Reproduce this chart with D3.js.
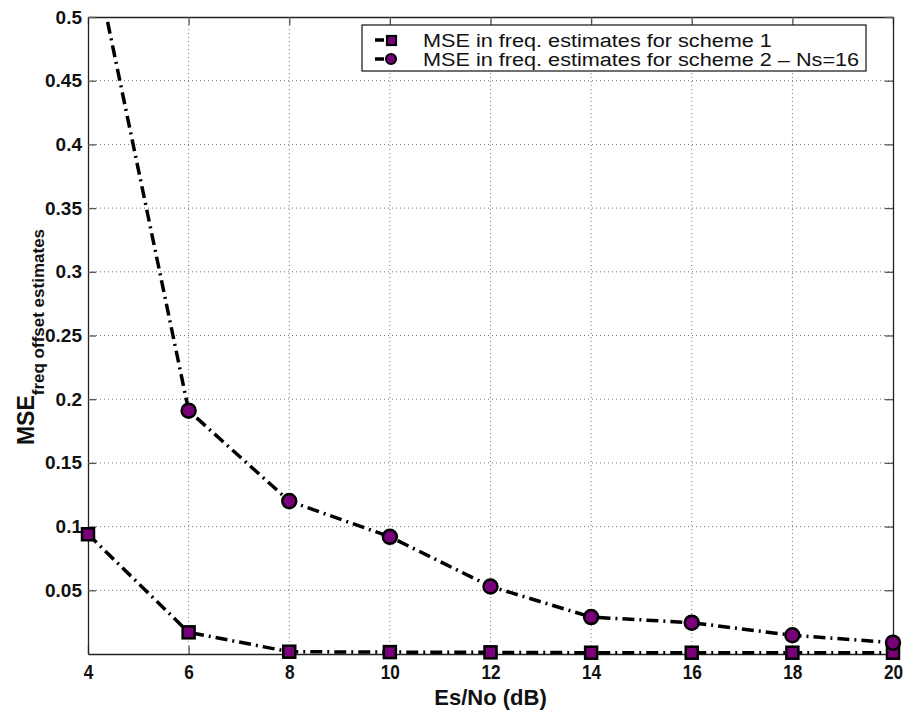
<!DOCTYPE html>
<html>
<head>
<meta charset="utf-8">
<script src="https://cdn.jsdelivr.net/npm/d3@7"></script>
<style>
  body { margin: 0; background: #fff; }
  text { font-family: "Liberation Sans", Arial, sans-serif; }
</style>
</head>
<body>
<div class="plot"></div>
<script>
// values
const snr = [4, 6, 8, 10, 12, 14, 16, 18, 20];
const scheme1 = [0.094, 0.017, 0.0018, 0.0015, 0.0013, 0.001, 0.001, 0.001, 0.001];
const scheme2 = [0.57, 0.191, 0.120, 0.092, 0.053, 0.029, 0.0246, 0.0147, 0.0089];
const xTicks = [4, 6, 8, 10, 12, 14, 16, 18, 20];
const yTicks = [0.05, 0.1, 0.15, 0.2, 0.25, 0.3, 0.35, 0.4, 0.45, 0.5];
const legendLabels = ['MSE in freq. estimates for scheme 1', 'MSE in freq. estimates for scheme 2 – Ns=16'];

const width = 905;
const height = 710;
const mLeft = 88, mRight = 893, mTop = 17, mBottom = 654;

const svg = d3.select('.plot').append('svg')
  .attr('width', width)
  .attr('height', height);

const x = d3.scaleLinear()
  .domain([4, 20])
  .range([mLeft, mRight]);

const y = d3.scaleLinear()
  .domain([0, 0.5])
  .range([mBottom, mTop]);

svg.append('defs').append('clipPath')
  .attr('id', 'clip')
  .append('rect')
  .attr('x', mLeft - 10)
  .attr('y', mTop)
  .attr('width', mRight - mLeft + 20)
  .attr('height', mBottom - mTop + 10);

// grid
svg.selectAll('.vgrid')
  .data(xTicks.slice(1, -1))
  .enter()
  .append('line')
  .attr('x1', d => x(d)).attr('x2', d => x(d))
  .attr('y1', mTop).attr('y2', mBottom)
  .attr('stroke', '#777')
  .attr('stroke-width', 1)
  .attr('stroke-dasharray', '1,3');

svg.selectAll('.hgrid')
  .data(yTicks.slice(0, -1))
  .enter()
  .append('line')
  .attr('x1', mLeft).attr('x2', mRight)
  .attr('y1', d => y(d)).attr('y2', d => y(d))
  .attr('stroke', '#777')
  .attr('stroke-width', 1)
  .attr('stroke-dasharray', '1,3');

// axes, MATLAB style with inner ticks on all sides
const xb = svg.append('g').attr('transform', `translate(0,${mBottom})`)
  .call(d3.axisBottom(x).tickValues(xTicks).tickSizeInner(-8).tickSizeOuter(0).tickPadding(10));
const xt = svg.append('g').attr('transform', `translate(0,${mTop})`)
  .call(d3.axisTop(x).tickValues(xTicks).tickSizeInner(-8).tickSizeOuter(0).tickFormat(''));
const yl = svg.append('g').attr('transform', `translate(${mLeft},0)`)
  .call(d3.axisLeft(y).tickValues(yTicks).tickSizeInner(-8).tickSizeOuter(0).tickPadding(6)
    .tickFormat(d => String(d)));
const yr = svg.append('g').attr('transform', `translate(${mRight},0)`)
  .call(d3.axisRight(y).tickValues(yTicks).tickSizeInner(-8).tickSizeOuter(0).tickFormat(''));

[xb, xt, yl, yr].forEach(g => {
  g.select('.domain').attr('stroke', '#222').attr('stroke-width', 1.3);
  g.selectAll('.tick line').attr('stroke', '#555').attr('stroke-width', 1.3);
});

xb.selectAll('text')
  .attr('font-size', 21)
  .attr('font-weight', 'bold')
  .attr('fill', '#111')
  .attr('transform', 'scale(0.82,1)');

yl.selectAll('text')
  .attr('font-size', 19)
  .attr('font-weight', 'bold')
  .attr('fill', '#111');

// axis titles
svg.append('text')
  .attr('x', (mLeft + mRight) / 2)
  .attr('y', 705)
  .attr('text-anchor', 'middle')
  .attr('font-size', 22)
  .attr('font-weight', 'bold')
  .attr('fill', '#111')
  .text('Es/No (dB)');

const ytitle = svg.append('text')
  .attr('transform', 'translate(34,337) rotate(-90)')
  .attr('text-anchor', 'middle')
  .attr('font-size', 23)
  .attr('font-weight', 'bold')
  .attr('fill', '#111');
ytitle.append('tspan').text('MSE');
ytitle.append('tspan')
  .attr('dy', 10)
  .attr('font-size', 17)
  .text('freq offset estimates');

// series
const line = d3.line()
  .x((d, i) => x(snr[i]))
  .y(d => y(d));

const plot = svg.append('g').attr('clip-path', 'url(#clip)');

[scheme1, scheme2].forEach(s => {
  plot.append('path')
    .datum(s)
    .attr('d', line)
    .attr('fill', 'none')
    .attr('stroke', '#000')
    .attr('stroke-width', 3.5)
    .attr('stroke-dasharray', '12,5,2,5');
});

plot.selectAll('.sq')
  .data(scheme1)
  .enter()
  .append('rect')
  .attr('x', (d, i) => x(snr[i]) - 6)
  .attr('y', d => y(d) - 6)
  .attr('width', 12)
  .attr('height', 12)
  .attr('fill', '#7a007a')
  .attr('stroke', '#000')
  .attr('stroke-width', 2.5);

plot.selectAll('.ci')
  .data(scheme2)
  .enter()
  .append('circle')
  .attr('cx', (d, i) => x(snr[i]))
  .attr('cy', d => y(d))
  .attr('r', 7)
  .attr('fill', '#7a007a')
  .attr('stroke', '#000')
  .attr('stroke-width', 2.5);

// legend
const lg = svg.append('g');
lg.append('rect')
  .attr('x', 362).attr('y', 25)
  .attr('width', 504).attr('height', 46)
  .attr('fill', '#fff')
  .attr('stroke', '#111')
  .attr('stroke-width', 1.2);

legendLabels.forEach((t, i) => {
  const ly = 40 + i * 19;
  lg.append('line')
    .attr('x1', 375).attr('x2', 406)
    .attr('y1', ly).attr('y2', ly)
    .attr('stroke', '#000')
    .attr('stroke-width', 3.5)
    .attr('stroke-dasharray', '9,4,2,3,2,20');
  if (i === 0) {
    lg.append('rect')
      .attr('x', 387).attr('y', ly - 4)
      .attr('width', 9).attr('height', 9)
      .attr('fill', '#7a007a').attr('stroke', '#000').attr('stroke-width', 2.2);
  } else {
    lg.append('circle')
      .attr('cx', 391).attr('cy', ly).attr('r', 5)
      .attr('fill', '#7a007a').attr('stroke', '#000').attr('stroke-width', 2.2);
  }
  lg.append('text')
    .attr('transform', `translate(423,${ly + 7}) scale(1.14,1)`)
    .attr('font-size', 19)
    .attr('fill', '#111')
    .text(t);
});
</script>
</body>
</html>
